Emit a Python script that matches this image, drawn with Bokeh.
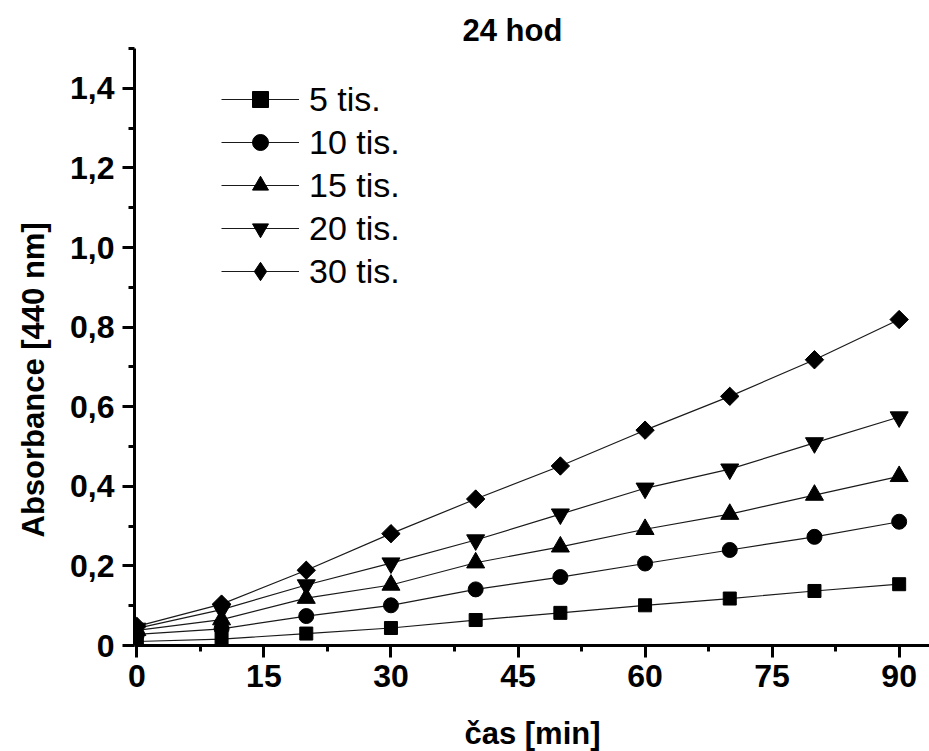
import math
from bokeh.plotting import figure
from bokeh.models import Range1d, FixedTicker, Legend, LegendItem, Title
from bokeh.embed import file_html
from bokeh.resources import INLINE

# ---- data ----
time_min = [0, 10, 20, 30, 40, 50, 60, 70, 80, 90]
s5 = [0.010, 0.016, 0.030, 0.044, 0.064, 0.082, 0.101, 0.118, 0.137, 0.154]
s10 = [0.028, 0.042, 0.074, 0.101, 0.141, 0.172, 0.206, 0.240, 0.273, 0.311]
s15 = [0.038, 0.065, 0.119, 0.152, 0.208, 0.248, 0.292, 0.330, 0.378, 0.425]
s20 = [0.043, 0.090, 0.152, 0.207, 0.265, 0.330, 0.395, 0.443, 0.509, 0.574]
s30 = [0.048, 0.104, 0.189, 0.281, 0.368, 0.451, 0.541, 0.626, 0.718, 0.819]
series_names = ["5 tis.", "10 tis.", "15 tis.", "20 tis.", "30 tis."]

x_ticks = [0, 15, 30, 45, 60, 75, 90]
x_minor = [7.5, 22.5, 37.5, 52.5, 67.5, 82.5]
x_tick_labels = ["0", "15", "30", "45", "60", "75", "90"]
y_ticks = [0, 0.2, 0.4, 0.6, 0.8, 1.0, 1.2, 1.4]
y_minor = [0.1, 0.3, 0.5, 0.7, 0.9, 1.1, 1.3, 1.5]
y_tick_labels = ["0", "0,2", "0,4", "0,6", "0,8", "1,0", "1,2", "1,4"]

title_text = "24 hod"
x_label = "čas [min]"
y_label = "Absorbance [440 nm]"

FONT = "Liberation Sans"

p = figure(width=929, height=751, output_backend="svg", toolbar_location=None,
           x_range=Range1d(-0.28, 93.7), y_range=Range1d(0, 1.5),
           frame_width=796, frame_height=597,
           min_border_left=133, min_border_right=0, min_border_top=48,
           min_border_bottom=106)
p.background_fill_color = "white"
p.border_fill_color = "white"
p.outline_line_color = None
p.grid.visible = False

# title
p.title = Title(text=title_text, align="left", offset=328, standoff=2,
                text_font=FONT, text_font_style="bold", text_font_size="31px",
                text_color="black")

# axes
p.xaxis.ticker = FixedTicker(ticks=x_ticks, minor_ticks=x_minor)
p.yaxis.ticker = FixedTicker(ticks=y_ticks, minor_ticks=y_minor)
p.xaxis.major_label_overrides = dict(zip(x_ticks, x_tick_labels))
p.yaxis.major_label_overrides = dict(zip(y_ticks, y_tick_labels))
for ax in (p.xaxis, p.yaxis):
    ax.axis_line_width = 3
    ax.axis_line_color = "black"
    ax.major_tick_line_width = 3
    ax.minor_tick_line_width = 3
    ax.major_tick_line_color = "black"
    ax.minor_tick_line_color = "black"
    ax.major_tick_in = 0
    ax.minor_tick_in = 0
    ax.major_tick_out = 12
    ax.minor_tick_out = 6
    ax.major_label_text_font = FONT
    ax.major_label_text_font_style = "bold"
    ax.major_label_text_font_size = "32px"
    ax.major_label_text_color = "black"
p.xaxis.major_label_standoff = 7
p.yaxis.major_label_standoff = 8

p.xaxis.axis_label = x_label
p.xaxis.axis_label_standoff = 26
p.xaxis.axis_label_text_font = FONT
p.xaxis.axis_label_text_font_style = "bold"
p.xaxis.axis_label_text_font_size = "31px"
p.xaxis.axis_label_text_color = "black"

p.add_layout(Title(text=y_label, align="left", offset=108, standoff=30,
                   vertical_align="top",
                   text_font=FONT, text_font_style="bold", text_font_size="31px",
                   text_color="black"), "left")

# series
styles = [("square", 13, 0.0), ("circle", 15, 0.0), ("triangle", 18, 0.0),
          ("inverted_triangle", 18, 0.0), ("square", 13, math.pi / 4)]
legend_markers = ["square", "circle", "triangle", "inverted_triangle", "diamond"]
items = []
for name, ys, (mk, sz, ang), lmk in zip(series_names, [s5, s10, s15, s20, s30],
                                        styles, legend_markers):
    lr = p.line(time_min, ys, line_color="#1a1a1a", line_width=1.2)
    if lmk == mk:
        sr = p.scatter(time_min, ys, marker=mk, size=sz, angle=ang,
                       fill_color="black", line_color="black")
        items.append(LegendItem(label=name, renderers=[lr, sr]))
    else:
        # diamond glyph used for the legend key (drawn under the rotated squares)
        kr = p.scatter(time_min, ys, marker=lmk, size=17,
                       fill_color="black", line_color="black")
        p.scatter(time_min, ys, marker=mk, size=sz, angle=ang,
                  fill_color="black", line_color="black")
        items.append(LegendItem(label=name, renderers=[lr, kr]))

common = dict(orientation="vertical", glyph_width=78, spacing=3, padding=0,
              margin=0, label_standoff=10, label_text_font=FONT,
              label_text_font_size="34px", label_text_color="black",
              border_line_color=None, background_fill_alpha=0)
legend1 = Legend(items=items[:4], location=(87, 397), glyph_height=40,
                 label_height=40, **common)
legend2 = Legend(items=items[4:], location=(87, 351), glyph_height=46,
                 label_height=46, **common)
p.add_layout(legend1)
p.add_layout(legend2)

open("out.html", "w").write(file_html(p, INLINE))
